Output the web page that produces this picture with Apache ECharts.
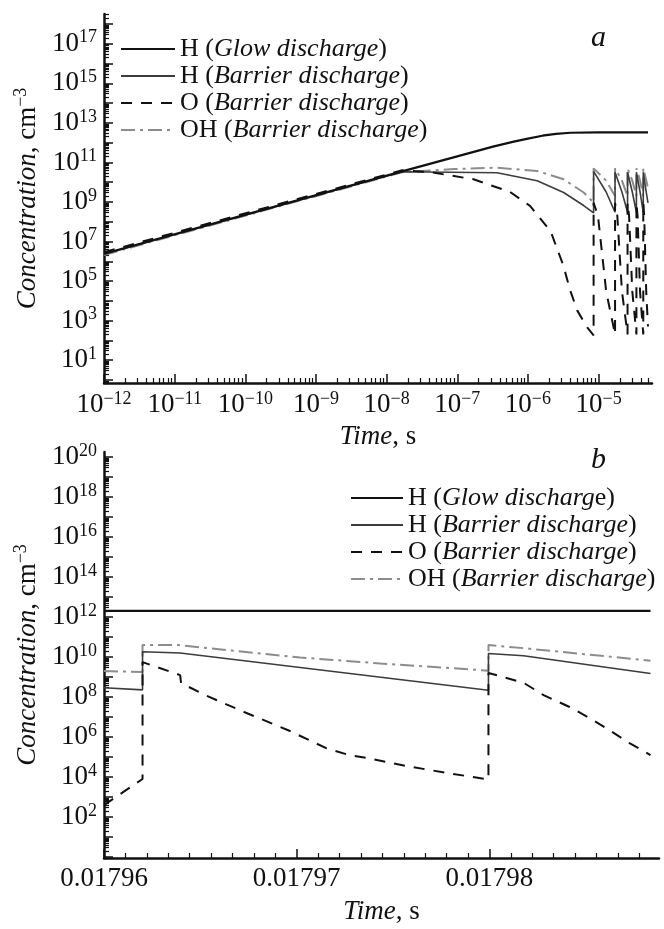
<!DOCTYPE html>
<html>
<head>
<meta charset="utf-8">
<script src="https://cdn.jsdelivr.net/npm/echarts@6.0.0/dist/echarts.min.js"></script>
<style>
  html, body { margin: 0; padding: 0; background: #fff; }
  #chart { width: 664px; height: 929px; }
</style>
</head>
<body>
<div id="chart"></div>
<script>
// ---- panel a: log time ----
const timeA_glow = [1e-12, 1.66e-8, 3.2e-7, 6.3e-7, 1e-6, 1.6e-6, 2.5e-6, 4e-6, 1e-5, 5e-5];
const concA_glow = [2.4e6, 3.5e10, 6.3e11, 1.12e12, 1.6e12, 2.24e12, 2.8e12, 3.16e12, 3.3e12, 3.3e12];

const timeA_hBar = [1e-12, 1.66e-8, 3.65e-7, 1.35e-6, 3.2e-6, 6.15e-6, 8.5e-6, 8.5e-6, 1.28e-5, 1.71e-5, 1.71e-5,
  2.14e-5, 2.57e-5, 2.57e-5, 3.0e-5, 3.43e-5, 3.43e-5, 3.86e-5, 4.29e-5, 4.29e-5, 4.65e-5, 5.0e-5];
const concA_hBar = [2.3e6, 3.4e10, 3.0e10, 1.17e10, 3.0e9, 6.6e8, 2.8e8, 3.5e10, 3.2e9, 3.0e8, 3.2e10,
  3.2e9, 3.0e8, 3.2e10, 3.2e9, 3.0e8, 3.2e10, 3.2e9, 3.0e8, 3.2e10, 4.5e9, 9e8];

const timeA_o = [1e-12, 1.66e-8, 4.17e-8, 1.7e-7, 5.6e-7, 1.07e-6, 2.1e-6, 3.16e-6, 3.98e-6, 5.0e-6, 6.9e-6,
  8.5e-6, 8.5e-6, 9.8e-6, 1.28e-5, 1.71e-5, 1.71e-5, 1.84e-5, 2.14e-5, 2.57e-5, 2.57e-5, 2.7e-5, 3.0e-5,
  3.43e-5, 3.43e-5, 3.56e-5, 3.86e-5, 4.29e-5, 4.29e-5, 4.42e-5, 4.72e-5, 5.0e-5];
const concA_o = [2.9e6, 4.0e10, 3.2e10, 1.4e10, 3.2e9, 6.3e8, 3.2e7, 6.3e5, 3.2e4, 3.2e3, 4.5e2,
  1.8e2, 9e8, 2e8, 3e4, 2e2, 9e8, 2e8, 3e4, 2e2, 9e8, 2e8, 3e4,
  2e2, 9e8, 2e8, 3e4, 2e2, 9e8, 2e8, 3e4, 5e2];

const timeA_oh = [1e-12, 1.66e-8, 9e-8, 3.65e-7, 1.35e-6, 3.2e-6, 6.15e-6, 7.6e-6, 8.5e-6, 8.5e-6, 1.28e-5,
  1.71e-5, 1.71e-5, 2.14e-5, 2.57e-5, 2.57e-5, 3.0e-5, 3.43e-5, 3.43e-5, 3.86e-5, 4.29e-5, 4.29e-5, 4.65e-5, 5.0e-5];
const concA_oh = [2.1e6, 3.2e10, 4.6e10, 5.4e10, 3.7e10, 1.4e10, 3.0e9, 1.4e9, 9.5e8, 5e10, 1.2e10,
  2e9, 5e10, 1.2e10, 2e9, 5e10, 1.2e10, 2e9, 5e10, 1.2e10, 2e9, 5e10, 1.6e10, 5e9];

// ---- panel b: linear time ----
const timeB_glow = [0.01796, 0.01798836];
const concB_glow = [2.05e12, 2.05e12];

const timeB_hBar = [0.01796, 0.017962, 0.017962, 0.01796395, 0.01797995, 0.01797995, 0.01798177, 0.01798836];
const concB_hBar = [2.95e8, 2.3e8, 1.86e10, 1.6e10, 2.2e8, 1.5e10, 1.17e10, 1.5e9];

const timeB_o = [0.01796, 0.017962, 0.017962, 0.01796395, 0.017964, 0.01796525, 0.01796727, 0.01796956,
  0.01797153, 0.01797273, 0.01797366, 0.01797574, 0.01797782, 0.01797995, 0.01797995, 0.01798073,
  0.01798177, 0.01798281, 0.01798416, 0.0179852, 0.01798623, 0.01798727, 0.01798836];
const concB_o = [4e2, 8e3, 5.6e9, 1.26e9, 5e8, 1.26e8, 1.8e7, 2.2e6,
  2.8e5, 1.26e5, 8.9e4, 3.5e4, 1.6e4, 7.6e3, 1.6e9, 1e9,
  5.2e8, 1.26e8, 3.2e7, 8.9e6, 2.2e6, 5e5, 1.26e5];

const timeB_oh = [0.01796, 0.017962, 0.017962, 0.01796384, 0.01797018, 0.01797434, 0.01797995, 0.01797995, 0.01798177, 0.01798836];
const concB_oh = [2e9, 1.8e9, 4e10, 4e10, 9.5e9, 4.8e9, 2.1e9, 4e10, 2.8e10, 6.6e9];

// tick labels
const xLabelsA = [1e-12, 1e-11, 1e-10, 1e-9, 1e-8, 1e-7, 1e-6, 1e-5];
const yLabelsA = [1e1, 1e3, 1e5, 1e7, 1e9, 1e11, 1e13, 1e15, 1e17];
const xLabelsB = [0.01796, 0.01797, 0.01798];
const yLabelsB = [1e2, 1e4, 1e6, 1e8, 1e10, 1e12, 1e14, 1e16, 1e18, 1e20];

const legendA = {
  Ha: '{r|H (}{i|Glow discharge}{r|)}',
  Hba: '{r|H (}{i|Barrier discharge}{r|)}',
  Oa: '{r|O (}{i|Barrier discharge}{r|)}',
  OHa: '{r|OH (}{i|Barrier discharge}{r|)}'
};
const legendB = {
  Hb: '{r|H (}{i|Glow discharg}{r|e)}',
  Hbb: '{r|H (}{i|Barrier discharge}{r|)}',
  Ob: '{r|O (}{i|Barrier discharge}{r|)}',
  OHb: '{r|OH (}{i|Barrier discharge}{r|)}'
};

const FONT = 'Liberation Serif';
const INK = '#111';

// tick positions (not data): decades and 2..9 sub-decades
function decades(lo, hi) {
  const out = [];
  for (let n = lo; n <= hi; n++) out.push(Number('1e' + n));
  return out;
}
function subDecades(lo, hi) {
  const out = [];
  for (let n = lo; n <= hi; n++) {
    for (let k = 2; k <= 9; k++) out.push(k * Number('1e' + n));
  }
  return out;
}
const minorB = [];
for (let k = 1; k <= 25; k++) {
  if (k % 9 !== 0) minorB.push(0.01796 + k * 1e-5 / 9);
}

function powLabel(v) {
  const e = Math.round(Math.log10(v));
  return '{b|10}{s|' + (e < 0 ? '\u2212' + (-e) : e) + '}';
}

const richTick = {
  b: { fontFamily: FONT, fontSize: 27, lineHeight: 30, color: INK },
  s: { fontFamily: FONT, fontSize: 18, lineHeight: 16, verticalAlign: 'top', color: INK }
};
const richName = {
  i: { fontFamily: FONT, fontSize: 27, fontStyle: 'italic', lineHeight: 30, color: INK },
  r: { fontFamily: FONT, fontSize: 27, lineHeight: 30, color: INK },
  s: { fontFamily: FONT, fontSize: 18, lineHeight: 16, verticalAlign: 'top', color: INK }
};
const richLegend = {
  i: { fontFamily: FONT, fontSize: 26, fontStyle: 'italic', lineHeight: 26, color: INK },
  r: { fontFamily: FONT, fontSize: 26, lineHeight: 26, color: INK }
};

function majorAxis(extra) {
  return Object.assign({
    axisLine: { show: true, onZero: false, lineStyle: { color: INK, width: 2.5 } },
    splitLine: { show: false },
    nameTextStyle: { rich: richName }
  }, extra);
}
function minorAxis(extra, ticks) {
  return Object.assign({
    axisLine: { show: false },
    axisLabel: { show: false },
    splitLine: { show: false },
    axisTick: { show: true, inside: true, length: 5, customValues: ticks, lineStyle: { color: INK, width: 1.2 } }
  }, extra);
}
function majorTick(vals) {
  return { show: true, inside: true, length: 9, customValues: vals, lineStyle: { color: INK, width: 1.5 } };
}

function pairs(ts, vs) {
  return ts.map((t, i) => [t, vs[i]]);
}

const styles = {
  glow: { color: INK, width: 2.2, type: 'solid' },
  hBar: { color: '#3c3c3c', width: 1.6, type: 'solid' },
  o: { color: INK, width: 2, type: [11, 9] },
  oh: { color: '#8c8c8c', width: 2, type: [14, 5, 3, 5] }
};
function line(name, xi, yi, data, st, z) {
  return {
    name: name, type: 'line', xAxisIndex: xi, yAxisIndex: yi, data: data,
    symbol: 'none', showSymbol: false, lineStyle: st, itemStyle: { color: st.color },
    z: z, animation: false
  };
}

const legendCommon = {
  orient: 'vertical', itemHeight: 12, itemGap: 1, selectedMode: false,
  itemStyle: { color: 'rgba(0,0,0,0)', borderWidth: 0 },
  textStyle: { rich: richLegend }
};

const chart = echarts.init(document.getElementById('chart'), null, { renderer: 'canvas' });
chart.setOption({
  backgroundColor: '#fff',
  animation: false,
  title: [
    { text: 'a', left: 586, top: 18, textStyle: { fontFamily: FONT, fontStyle: 'italic', fontWeight: 'normal', fontSize: 30, color: INK } },
    { text: 'b', left: 586, top: 440, textStyle: { fontFamily: FONT, fontStyle: 'italic', fontWeight: 'normal', fontSize: 30, color: INK } }
  ],
  grid: [
    { left: 104, top: 14, width: 548, height: 369 },
    { left: 104, top: 452, width: 555, height: 406 }
  ],
  legend: [
    Object.assign({
      data: ['Ha', 'Hba', 'Oa', 'OHa'], left: 115, top: 31, itemWidth: 54,
      formatter: n => legendA[n]
    }, legendCommon),
    Object.assign({
      data: ['Hb', 'Hbb', 'Ob', 'OHb'], left: 345, top: 480, itemWidth: 52,
      formatter: n => legendB[n]
    }, legendCommon)
  ],
  xAxis: [
    majorAxis({
      type: 'log', logBase: 10, gridIndex: 0, position: 'bottom', min: 1e-12, max: 5.7e-5,
      axisTick: majorTick(decades(-12, -5)),
      axisLabel: { customValues: xLabelsA, formatter: powLabel, rich: richTick, margin: 7 },
      name: '{i|Time}{r|, s}', nameLocation: 'middle', nameGap: 39
    }),
    minorAxis({ type: 'log', logBase: 10, gridIndex: 0, position: 'bottom', min: 1e-12, max: 5.7e-5 }, subDecades(-12, -5)),
    majorAxis({
      type: 'value', gridIndex: 1, position: 'bottom', min: 0.01796, max: 0.0179888,
      axisTick: majorTick(xLabelsB),
      axisLabel: { customValues: xLabelsB, formatter: v => v.toFixed(5), fontFamily: FONT, fontSize: 27, color: INK, margin: 7 },
      name: '{i|Time}{r|, s}', nameLocation: 'middle', nameGap: 39
    }),
    minorAxis({ type: 'value', gridIndex: 1, position: 'bottom', min: 0.01796, max: 0.0179888 }, minorB)
  ],
  yAxis: [
    majorAxis({
      type: 'log', logBase: 10, gridIndex: 0, position: 'left', min: 0.7, max: 3.2e18,
      axisTick: majorTick(decades(0, 18)),
      axisLabel: { customValues: yLabelsA, formatter: powLabel, rich: richTick, margin: 7 },
      name: '{i|Concentration}{r|, cm}{s|\u22123}', nameLocation: 'middle', nameRotate: 90, nameGap: 60
    }),
    minorAxis({ type: 'log', logBase: 10, gridIndex: 0, position: 'left', min: 0.7, max: 3.2e18 }, subDecades(-1, 18)),
    majorAxis({
      type: 'log', logBase: 10, gridIndex: 1, position: 'left', min: 0.9, max: 1.8e20,
      axisTick: majorTick(decades(0, 20)),
      axisLabel: { customValues: yLabelsB, formatter: powLabel, rich: richTick, margin: 7 },
      name: '{i|Concentration}{r|, cm}{s|\u22123}', nameLocation: 'middle', nameRotate: 90, nameGap: 60
    }),
    minorAxis({ type: 'log', logBase: 10, gridIndex: 1, position: 'left', min: 0.9, max: 1.8e20 }, subDecades(-1, 20))
  ],
  series: [
    line('OHa', 0, 0, pairs(timeA_oh, concA_oh), styles.oh, 2),
    line('Hba', 0, 0, pairs(timeA_hBar, concA_hBar), styles.hBar, 3),
    line('Ha', 0, 0, pairs(timeA_glow, concA_glow), styles.glow, 4),
    line('Oa', 0, 0, pairs(timeA_o, concA_o), styles.o, 5),
    line('OHb', 2, 2, pairs(timeB_oh, concB_oh), styles.oh, 2),
    line('Hbb', 2, 2, pairs(timeB_hBar, concB_hBar), styles.hBar, 3),
    line('Hb', 2, 2, pairs(timeB_glow, concB_glow), styles.glow, 4),
    line('Ob', 2, 2, pairs(timeB_o, concB_o), styles.o, 5)
  ]
});
</script>
</body>
</html>
